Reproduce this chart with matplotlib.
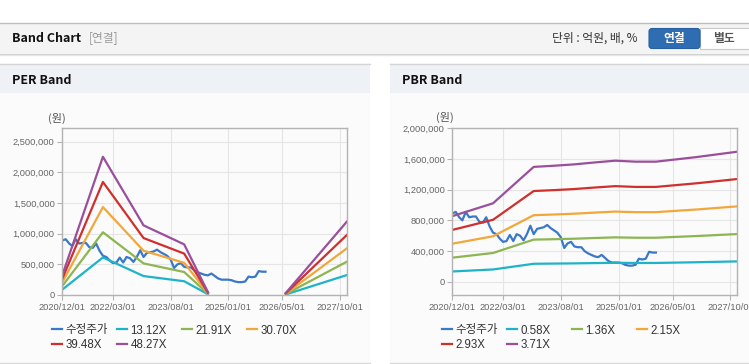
import numpy as np
import pandas as pd
import matplotlib
matplotlib.use('Agg')
import matplotlib.pyplot as plt
import matplotlib.dates as mdates
from matplotlib.patches import Rectangle, FancyBboxPatch
from matplotlib.lines import Line2D
from matplotlib.legend import Legend
from matplotlib.ticker import FuncFormatter

# 수정주가 (월별, 2020/12 ~ 2025/12)
price_dates = pd.date_range('2020-12-01', '2025-12-01', freq='MS')
price = [890000, 910000, 840000, 800000, 910000, 840000, 850000, 850000, 780000, 770000,
         840000, 720000, 640000, 620000, 560000, 520000, 530000, 610000, 530000, 620000,
         600000, 540000, 620000, 730000, 620000, 690000, 700000, 710000, 740000, 700000,
         670000, 640000, 580000, 440000, 500000, 520000, 460000, 450000, 450000, 400000,
         370000, 350000, 330000, 320000, 350000, 310000, 270000, 250000, 250000, 250000,
         240000, 220000, 210000, 210000, 220000, 300000, 290000, 300000, 390000, 380000, 380000]

# PER band
per_dates = pd.to_datetime(['2020-12-01', '2021-12-01', '2022-12-01', '2023-12-01',
                            '2024-07-01', '2025-06-01', '2026-06-01', '2027-12-01'])
per_labels = ['13.12X', '21.91X', '30.70X', '39.48X', '48.27X']
per_1312 = [88000, 612900, 308800, 224500, 13100, np.nan, 9200, 325100]
per_2191 = [146800, 1023500, 515600, 374900, 21900, np.nan, 15300, 542900]
per_3070 = [205700, 1434200, 722500, 525300, 30700, np.nan, 21500, 760700]
per_3948 = [264500, 1844300, 929100, 675600, 39500, np.nan, 27600, 978200]
per_4827 = [323400, 2255000, 1136000, 826000, 48300, np.nan, 33800, 1196000]

# PBR band
pbr_dates = pd.to_datetime(['2020-12-01', '2021-12-01', '2022-12-01', '2023-06-01',
                            '2023-12-01', '2024-06-01', '2024-12-01', '2025-06-01',
                            '2025-12-01', '2026-12-01', '2027-12-01'])
pbr_labels = ['0.58X', '1.36X', '2.15X', '2.93X', '3.71X']
pbr_058 = [133700, 159800, 234000, 236400, 239200, 243100, 246700, 244600, 244600, 254000, 265000]
pbr_136 = [313500, 374700, 548800, 554200, 560900, 570000, 578400, 573600, 573600, 595700, 621400]
pbr_215 = [495600, 592300, 867500, 876100, 886700, 901100, 914400, 906900, 906900, 941700, 982300]
pbr_293 = [675400, 807200, 1182300, 1194000, 1208300, 1228000, 1246100, 1235900, 1235900, 1283300, 1338700]
pbr_371 = [855000, 1022000, 1497000, 1512000, 1530000, 1555000, 1578000, 1565000, 1565000, 1625000, 1695000]

xticks = pd.to_datetime(['2020-12-01', '2022-03-01', '2023-08-01', '2025-01-01',
                         '2026-05-01', '2027-10-01'])

price_color = '#3a78c8'
band_colors = ['#1fb3c8', '#8db552', '#f2a73b', '#d0302c', '#9a4f9d']

KR = ['Noto Sans CJK KR', 'DejaVu Sans']
NUM = ['Liberation Sans', 'Noto Sans CJK KR']

W, H = 749, 364
fig = plt.figure(figsize=(W / 100, H / 100), dpi=100)
fig.patch.set_facecolor('white')
T = fig.dpi_scale_trans


def px(x, y):
    # 픽셀 좌표(위에서부터) -> 인치
    return x / 100, (H - y) / 100


def box(x0, y0, x1, y1, fc, ec='none', lw=0):
    fig.add_artist(Rectangle(px(x0, y1), (x1 - x0) / 100, (y1 - y0) / 100,
                             transform=T, facecolor=fc, edgecolor=ec, linewidth=lw, zorder=0))


def hline(x0, x1, y, c, lw=1.0):
    fig.add_artist(Line2D([x0 / 100, x1 / 100], [(H - y) / 100] * 2, transform=T,
                          color=c, lw=lw, zorder=1))


def text(x, y, s, **kw):
    fig.text(x / 100, (H - y) / 100, s, transform=T, va='center', **kw)


# 상단 헤더
box(0, 23, 749, 53, '#f4f4f4')
hline(0, 749, 22.5, '#bdbdbd')
hline(0, 749, 53.5, '#cccccc')
hline(0, 749, 54.5, '#e6e6e6')
text(12, 38, 'Band Chart', fontsize=9, fontweight='bold', family=KR, color='#111111')
text(89, 38, '[연결]', fontsize=8.5, family=KR, color='#999999')
text(552, 38, '단위 : 억원, 배, %', fontsize=8.5, family=KR, color='#333333')
fig.add_artist(FancyBboxPatch(px(649, 48.5), 51 / 100, 20 / 100, transform=T,
                              boxstyle='round,pad=0,rounding_size=0.03',
                              facecolor='#2f6db3', edgecolor='#285f9e', lw=0.8, zorder=2))
box(700, 28.5, 752, 48.5, 'white', ec='#c8c8c8', lw=0.8)
text(674.5, 38.5, '연결', fontsize=8.5, fontweight='bold', family=KR, color='white', ha='center', zorder=3)
text(724, 38.5, '별도', fontsize=8.5, fontweight='bold', family=KR, color='#555555', ha='center')

# 패널 배경
for x0, x1, title in [(0, 370, 'PER Band'), (390, 749, 'PBR Band')]:
    box(x0, 63, x1, 363, '#fbfbfb')
    box(x0, 64, x1, 93, '#eef1f6')
    hline(x0, x1, 63.5, '#d6d6d6')
    hline(x0, x1, 362.5, '#d9d9d9')
    text(x0 + 12, 80.5, title, fontsize=9, fontweight='bold', family=KR, color='#111111')


def style_axes(ax, ylim, yticks):
    ax.set_facecolor('none')
    ax.set_xlim(pd.Timestamp('2020-12-01'), pd.Timestamp('2027-12-01'))
    ax.set_ylim(*ylim)
    ax.set_yticks(yticks)
    ax.set_xticks(xticks)
    ax.xaxis.set_major_formatter(mdates.DateFormatter('%Y/%m/%d'))
    ax.yaxis.set_major_formatter(FuncFormatter(lambda v, p: f'{v:,.0f}'))
    ax.grid(True, color='#e6e6e6', lw=0.8)
    ax.set_axisbelow(True)
    for s in ax.spines.values():
        s.set_color('#b3b3b3')
        s.set_linewidth(1)
    ax.tick_params(axis='both', colors='#b3b3b3', length=3.5, width=0.8,
                   labelcolor='#666666', labelsize=6.7, pad=2)
    for lab in ax.get_xticklabels() + ax.get_yticklabels():
        lab.set_family(NUM)


def add_legend(ax, lines, labels):
    # 4열 고정 간격 범례
    cols = [[0, 4], [1, 5], [2], [3]]
    left = ax.get_position().x0 * W
    for j, idx in enumerate(cols):
        x = left - 10 + 65 * j
        leg = Legend(ax, [lines[i] for i in idx], [labels[i] for i in idx],
                     loc='upper left', bbox_to_anchor=(x / 100, (H - 324.5) / 100),
                     bbox_transform=T, frameon=False, borderpad=0, borderaxespad=0,
                     handlelength=0.85, handletextpad=0.3, labelspacing=0.2,
                     prop={'family': NUM, 'size': 8.3})
        for t in leg.get_texts():
            t.set_color('#333333')
        ax.add_artist(leg)


def band_chart(ax, dates, bands, labels, ylim, yticks):
    lines = []
    l, = ax.plot(price_dates, price, color=price_color, lw=1.6)
    lines.append(l)
    for vals, c in zip(bands, band_colors):
        l, = ax.plot(dates, vals, color=c, lw=1.6)
        lines.append(l)
    style_axes(ax, ylim, yticks)
    add_legend(ax, lines, ['수정주가'] + labels)


ax1 = fig.add_axes([62.3 / W, 1 - 295 / H, 284.5 / W, 166.7 / H])
band_chart(ax1, per_dates, [per_1312, per_2191, per_3070, per_3948, per_4827], per_labels,
           (0, 2720000), np.arange(0, 2500001, 500000))
text(57, 118, '(원)', fontsize=8, family=KR, color='#555555', ha='center')

ax2 = fig.add_axes([452.3 / W, 1 - 295 / H, 285 / W, 166.7 / H])
band_chart(ax2, pbr_dates, [pbr_058, pbr_136, pbr_215, pbr_293, pbr_371], pbr_labels,
           (-173000, 2000000), np.arange(0, 2000001, 400000))
text(445, 117.5, '(원)', fontsize=8, family=KR, color='#555555', ha='center')

fig.savefig('out.png', dpi=100)
